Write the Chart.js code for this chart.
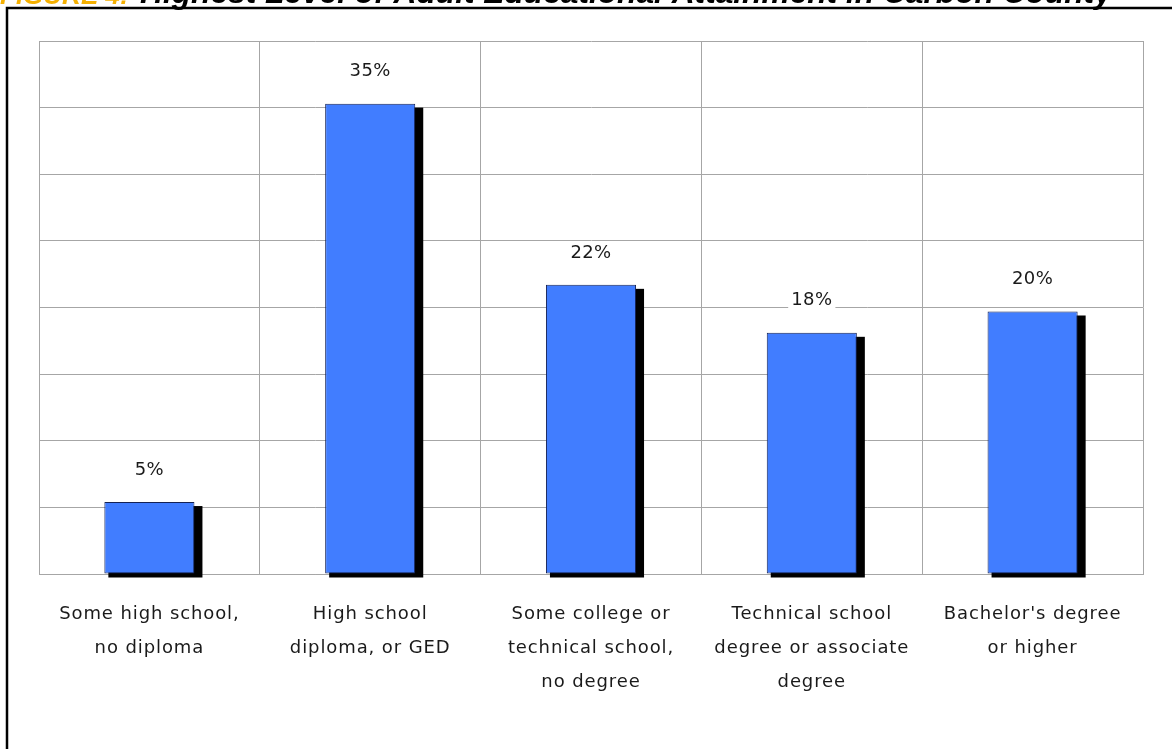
<!DOCTYPE html>
<html>
<head>
<meta charset="utf-8">
<script src="https://cdn.jsdelivr.net/npm/chart.js@4"></script>
<style>
  html, body { margin: 0; padding: 0; background: #ffffff; }
  #wrap { position: relative; width: 1172px; height: 749px; overflow: hidden; }
  canvas { display: block; }
</style>
</head>
<body>
<div id="wrap"><canvas id="chart" width="1172" height="749"></canvas></div>
<script>
// Highest level of adult educational attainment (percent of adults)
const categories = [
  ['Some high school,', 'no diploma'],
  ['High school', 'diploma, or GED'],
  ['Some college or', 'technical school,', 'no degree'],
  ['Technical school', 'degree or associate', 'degree'],
  ["Bachelor's degree", 'or higher']
];
const shares = [5.4, 35.3, 21.7, 18.1, 19.7];
const yTicks = [0, 5, 10, 15, 20, 25, 30, 35, 40];

const figureTag = 'FIGURE 4:';
const figureTitle = 'Highest Level of Adult Educational Attainment in Carbon County';

const labelFont = '"DejaVu Sans", sans-serif';
const labelSpacing = '0.9px';

// Slightly wider tracking for the axis labels
const trackingPlugin = {
  id: 'tracking',
  beforeUpdate(chart) { chart.ctx.letterSpacing = labelSpacing; },
  beforeLayout(chart) { chart.ctx.letterSpacing = labelSpacing; },
  beforeDraw(chart) { chart.ctx.letterSpacing = labelSpacing; }
};

// Frame and figure heading drawn behind the chart
const framePlugin = {
  id: 'frame',
  beforeDraw(chart) {
    const ctx = chart.ctx;
    ctx.save();
    ctx.letterSpacing = '0px';
    ctx.fillStyle = '#ffffff';
    ctx.fillRect(0, 0, chart.width, chart.height);
    ctx.strokeStyle = '#000000';
    ctx.lineWidth = 2.5;
    ctx.beginPath();
    ctx.moveTo(7, chart.height + 5);
    ctx.lineTo(7, 8);
    ctx.lineTo(chart.width + 5, 8);
    ctx.stroke();

    // heading: orange tag then black title, sized to span the top edge
    const family = '"Liberation Sans", Arial, sans-serif';
    ctx.textBaseline = 'alphabetic';
    ctx.textAlign = 'left';
    ctx.font = 'italic bold 26px ' + family;
    ctx.fillStyle = '#f5b000';
    ctx.fillText(figureTag, 0, 4);
    const startX = 140, endX = 1112;
    const w = ctx.measureText(figureTitle).width;
    const size = 26 * (endX - startX) / w;
    ctx.font = 'italic bold ' + size.toFixed(1) + 'px ' + family;
    ctx.fillStyle = '#000000';
    ctx.fillText(figureTitle, startX, 3);
    ctx.restore();
  }
};

// Offset black shadow under each bar
const shadowPlugin = {
  id: 'barShadow',
  beforeDatasetsDraw(chart) {
    const ctx = chart.ctx;
    const meta = chart.getDatasetMeta(0);
    ctx.save();
    ctx.fillStyle = '#000000';
    meta.data.forEach(bar => {
      const left = bar.x - bar.width / 2;
      ctx.fillRect(left + 4, bar.y + 4, bar.width + 4, bar.base - bar.y);
    });
    ctx.restore();
  }
};

// Percentage labels above the bars, on a white box
const valueLabelPlugin = {
  id: 'valueLabels',
  afterDatasetsDraw(chart) {
    const ctx = chart.ctx;
    const meta = chart.getDatasetMeta(0);
    const values = chart.data.datasets[0].data;
    ctx.save();
    ctx.letterSpacing = '0.4px';
    ctx.font = '18px ' + labelFont;
    ctx.textAlign = 'center';
    ctx.textBaseline = 'middle';
    meta.data.forEach((bar, i) => {
      const text = Math.round(values[i]) + '%';
      const y = bar.y - 32;
      const w = ctx.measureText(text).width;
      ctx.fillStyle = '#ffffff';
      ctx.fillRect(bar.x - w / 2 - 3, y - 10, w + 6, 20);
      ctx.fillStyle = '#1a1a1a';
      ctx.fillText(text, bar.x, y);
    });
    ctx.restore();
  }
};

new Chart(document.getElementById('chart'), {
  type: 'bar',
  data: {
    labels: categories,
    datasets: [{
      data: shares,
      backgroundColor: '#417dff',
      borderColor: '#142255',
      borderWidth: 1,
      borderSkipped: false,
      barPercentage: 0.408,
      categoryPercentage: 1.0
    }]
  },
  options: {
    responsive: false,
    animation: false,
    events: [],
    layout: { padding: { left: 39, right: 29, top: 41, bottom: 27 } },
    plugins: {
      legend: { display: false },
      title: { display: false },
      tooltip: { enabled: false }
    },
    scales: {
      x: {
        grid: { color: '#a6a6a6', lineWidth: 1, drawTicks: false, offset: true },
        border: { color: '#a6a6a6', width: 1 },
        ticks: {
          color: '#1a1a1a',
          font: { family: labelFont, size: 18, lineHeight: '34px' },
          padding: 23,
          maxRotation: 0,
          autoSkip: false
        }
      },
      y: {
        min: 0,
        max: 40,
        afterBuildTicks(axis) { axis.ticks = yTicks.map(v => ({ value: v })); },
        grid: { color: '#a6a6a6', lineWidth: 1, drawTicks: false },
        border: { color: '#a6a6a6', width: 1 },
        ticks: { display: false }
      }
    }
  },
  plugins: [trackingPlugin, framePlugin, shadowPlugin, valueLabelPlugin]
});
</script>
</body>
</html>
